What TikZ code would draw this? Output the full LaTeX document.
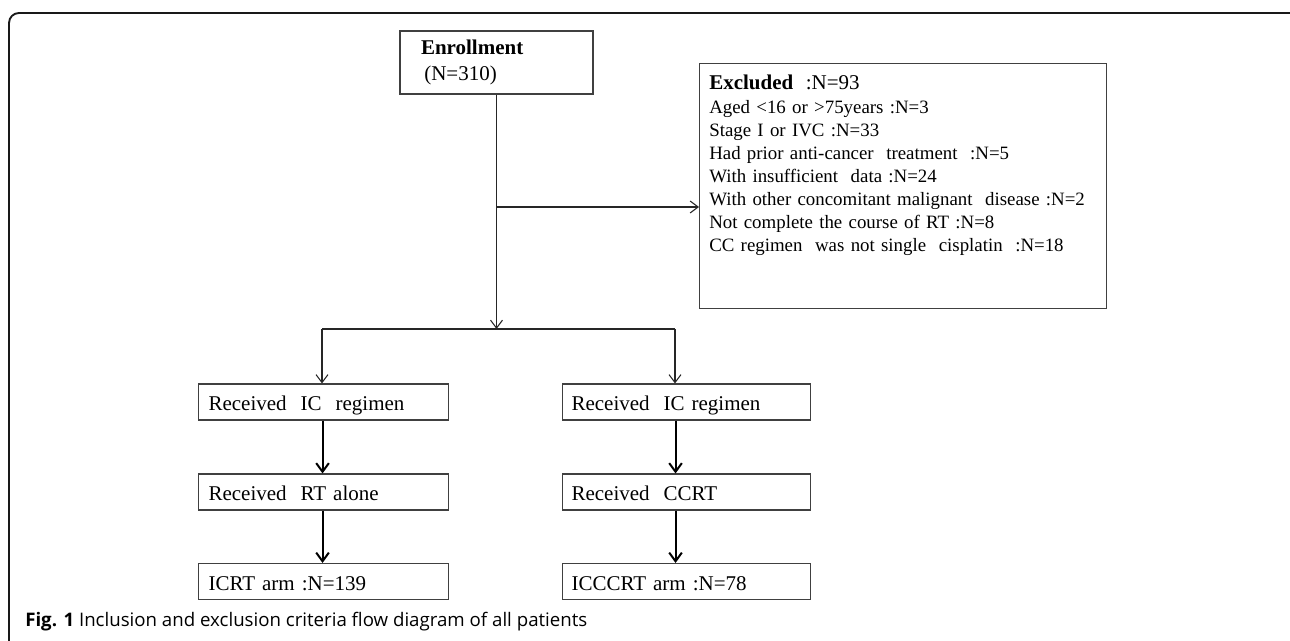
\documentclass[tikz,border=0pt]{standalone}
\usepackage{fontspec}
\setmainfont{Liberation Serif}
\newfontfamily\capfont{Open Sans}
\usetikzlibrary{arrows.meta,calc}
\tikzset{
  flowbox/.style={draw=black!75, line width=0.8pt, rectangle, align=left,
    font=\fontsize{15.75pt}{19.5pt}\selectfont, inner ysep=0pt},
  colbox/.style={flowbox, minimum height=27pt, text height=13pt, text depth=0pt},
  thinarrow/.style={draw=black!85, line width=0.8pt, -{Straight Barb[length=6pt,width=9pt,line width=0.8pt]}},
  thickarrow/.style={draw=black, line width=1.5pt, -{Straight Barb[length=6.5pt,width=9.5pt,line width=1.5pt]}},
  thinline/.style={draw=black!85, line width=0.8pt},
  frameline/.style={draw=black!90, line width=1.4pt, rounded corners=7.5pt}
}
\begin{document}
\begin{tikzpicture}[x=0.75pt,y=-0.75pt]
\path[use as bounding box] (0,0) rectangle (1290,641);
\begin{scope}
\clip (0,0) rectangle (1290,641);
\draw[frameline] (9,700) -- (9,13) -- (1300,13) -- (1300,700);
\end{scope}

% Enrollment
\node[flowbox, minimum width=144.75pt, minimum height=47.25pt, inner xsep=15.75pt, text width=113.25pt] (enroll) at (496.5,62.5)
  {{\bfseries Enrollment}\\\hspace*{2.5pt}(N=310)};

% Excluded box
\node[draw=black!75, line width=0.8pt, minimum width=305.25pt, minimum height=183.75pt, anchor=north west, inner sep=0pt] (excl) at (699,63) {};
\node[anchor=north west, inner sep=0pt, align=left, text width=295pt,
      font=\fontsize{14.15pt}{17.25pt}\selectfont] (excltext) at (709,74.5)
  {{\fontsize{15.75pt}{17.25pt}\selectfont\bfseries Excluded}{\fontsize{15.75pt}{17.25pt}\selectfont\ \ :N=93}\\[1.2pt]
   Aged \textless16 or \textgreater75years :N=3\\
   Stage I or IVC :N=33\\
   Had prior anti-cancer\ \ treatment\ \ :N=5\\
   With insufficient\ \ data :N=24\\
   With other concomitant malignant\ \ disease :N=2\\
   Not complete the course of RT :N=8\\
   CC regimen\ \ was not single\ \ cisplatin\ \ :N=18};

% Left column
\node[colbox, anchor=west, minimum width=187.5pt, inner xsep=7.5pt, text width=172.5pt] (ic1) at (198,402) {Received\ \ IC\ \ regimen};
\node[colbox, anchor=west, minimum width=187.5pt, inner xsep=7.5pt, text width=172.5pt] (rt1) at (198,492) {Received\ \ RT alone};
\node[colbox, anchor=west, minimum width=187.5pt, inner xsep=7.5pt, text width=172.5pt] (arm1) at (198,581.5) {ICRT arm :N=139};

% Right column
\node[colbox, anchor=west, minimum width=186pt, inner xsep=6.75pt, text width=172.5pt] (ic2) at (562,402) {Received\ \ IC regimen};
\node[colbox, anchor=west, minimum width=186pt, inner xsep=6.75pt, text width=172.5pt] (rt2) at (562,492) {Received\ \ CCRT};
\node[colbox, anchor=west, minimum width=186pt, inner xsep=6.75pt, text width=172.5pt] (arm2) at (562,581.5) {ICCCRT arm :N=78};

% Connectors
\coordinate (excljoin) at (496.5,207);
\coordinate (split) at (496.5,329);
\coordinate (lsplit) at (322,329);
\coordinate (rsplit) at (675,329);
\draw[thinarrow] (enroll.south) -- (split);
\draw[thinarrow] (excljoin) -- (excljoin -| excl.west);
\draw[thinline] (lsplit) -- (rsplit);
\draw[thinarrow] (lsplit) -- (lsplit |- ic1.north);
\draw[thinarrow] (rsplit) -- (rsplit |- ic2.north);

\draw[thickarrow] ([xshift=-0.75pt]ic1.south) -- ([xshift=-0.75pt]rt1.north);
\draw[thickarrow] ([xshift=-0.75pt]rt1.south) -- ([xshift=-0.75pt]arm1.north);
\draw[thickarrow] ([xshift=-8.25pt]ic2.south) -- ([xshift=-8.25pt]rt2.north);
\draw[thickarrow] ([xshift=-8.25pt]rt2.south) -- ([xshift=-8.25pt]arm2.north);

% Caption
\node[anchor=base west, inner sep=0pt, font=\capfont\fontsize{14pt}{16pt}\selectfont] (caption) at (25,626.5)
  {\textbf{Fig. 1} Inclusion and exclusion criteria flow diagram of all patients};
\end{tikzpicture}
\end{document}
